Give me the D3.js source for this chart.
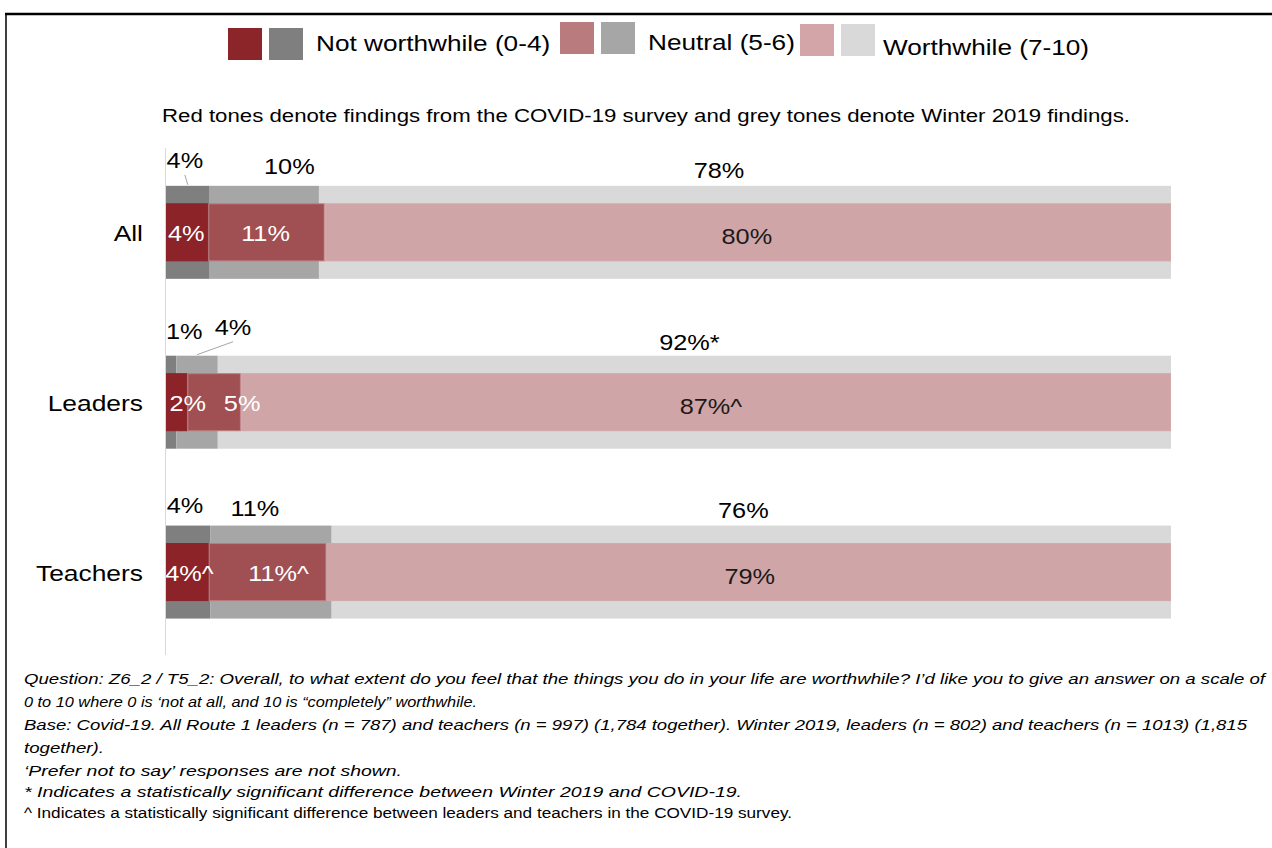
<!DOCTYPE html>
<html>
<head>
<meta charset="utf-8">
<script src="https://cdn.jsdelivr.net/npm/d3@7"></script>
<style>
  html, body { margin: 0; padding: 0; background: #fff; }
  svg { display: block; font-family: "Liberation Sans", Arial, sans-serif; }
</style>
</head>
<body>
<svg id="chart" width="1272" height="848"></svg>
<script>
// Survey groups, top to bottom
const categories = ["All", "Leaders", "Teachers"];
const seriesKeys = ["not", "neutral", "worth"];
const seriesNames = ["Not worthwhile (0-4)", "Neutral (5-6)", "Worthwhile (7-10)"];

// COVID-19 survey (%)
const covidNot = [4, 2, 4];
const covidNeutral = [11, 5, 11];
const covidWorth = [80, 87, 79];
const covidFlags = [["", "", ""], ["", "", "^"], ["^", "^", ""]];

// Winter 2019 survey (%)
const winterNot = [4, 1, 4];
const winterNeutral = [10, 4, 11];
const winterWorth = [78, 92, 76];
const winterFlags = [["", "", ""], ["", "", "*"], ["", "", ""]];

const covidColors = ["#8B2329", "#A04F53", "#D0A5A7"];
const covidStroke = ["#8B2329", "#BE7A7E", "#D3A8AA"];
const winterColors = ["#7F7F7F", "#A6A6A6", "#D9D9D9"];
const legendCovidColors = ["#8B252A", "#BA7B7E", "#D3A5A8"];

const subtitle = "Red tones denote findings from the COVID-19 survey and grey tones denote Winter 2019 findings.";
const notes = [
  {t: "Question: Z6_2 / T5_2: Overall, to what extent do you feel that the things you do in your life are worthwhile?  I’d like you to give an answer on a scale of", italic: true},
  {t: "0 to 10 where  0 is ‘not at all, and 10 is “completely” worthwhile.", italic: true},
  {t: "Base: Covid-19.  All Route 1 leaders  (n = 787) and teachers (n = 997) (1,784 together).  Winter 2019, leaders  (n = 802) and teachers (n = 1013) (1,815", italic: true},
  {t: "together).", italic: true},
  {t: "‘Prefer not to say’ responses are not shown.", italic: true},
  {t: "* Indicates a statistically significant difference between  Winter 2019 and COVID-19.", italic: true},
  {t: "^ Indicates a statistically significant difference  between  leaders and teachers in the COVID-19 survey.", italic: false}
];

// ---- layout ----
const SX = 1.15;                 // horizontal text stretch used for chart labels
const SX_LEGEND = 1.19;
const plotLeft = 166, plotRight = 1171;
const winterH = 93, covidH = 58;

// label offsets from segment centres [dx, dy]
const winterShift = [[[-3, -9], [25, -3], [-26, 1]], [[13, -8], [36, -12], [-5, 3]], [[-3, -4], [-16, -1], [-8, 1]]];
const covidShift = [[[-1, 0], [-1, 0], [-1, 3]], [[11, 0], [28, 0], [5, 3]], [[2, 0], [11, 0], [1, 3]]];
const winterLeader = [[true, false, false], [false, true, false], [false, false, false]];

const svg = d3.select("#chart");

function stretchedText(sel, x, y, anchor, sx) {
  return sel.append("text")
    .attr("transform", `translate(${x},${y}) scale(${sx || SX},1)`)
    .attr("text-anchor", anchor || "start");
}

// frame
svg.append("line").attr("x1", 5).attr("x2", 1272).attr("y1", 14).attr("y2", 14)
  .attr("stroke", "#000").attr("stroke-width", 2.5);
svg.append("line").attr("x1", 6).attr("x2", 6).attr("y1", 13).attr("y2", 848)
  .attr("stroke", "#000").attr("stroke-width", 1.5);

// legend
const legendX = [228, 560, 800];
const legendTextX = [316, 648, 883];
const legendSwY = [28, 22, 24];
const legendTextY = [51, 50, 55];
seriesNames.forEach((name, i) => {
  const g = svg.append("g");
  g.append("rect").attr("x", legendX[i]).attr("y", legendSwY[i]).attr("width", 34).attr("height", 32)
    .attr("fill", legendCovidColors[i]);
  g.append("rect").attr("x", legendX[i] + 41).attr("y", legendSwY[i]).attr("width", 34).attr("height", 32)
    .attr("fill", winterColors[i]);
  stretchedText(g, legendTextX[i], legendTextY[i], "start", SX_LEGEND)
    .attr("font-size", 22).attr("fill", "#000").text(name);
});

stretchedText(svg, 162, 122, "start", 1.2).attr("font-size", 18.5).attr("fill", "#000")
  .attr("textLength", 968 / 1.2).attr("lengthAdjust", "spacingAndGlyphs").text(subtitle);

// data tables
const covidRows = categories.map((c, i) => ({cat: c, not: covidNot[i], neutral: covidNeutral[i], worth: covidWorth[i]}));
const winterRows = categories.map((c, i) => ({cat: c, not: winterNot[i], neutral: winterNeutral[i], worth: winterWorth[i]}));

const stack = d3.stack().keys(seriesKeys).offset(d3.stackOffsetExpand);
const covidStack = stack(covidRows);
const winterStack = stack(winterRows);

const x = d3.scaleLinear().domain([0, 1]).range([plotLeft, plotRight]);
const y = d3.scalePoint().domain(categories).range([147.4, 657]).padding(0.5);

// axis line
svg.append("line").attr("x1", plotLeft - 0.5).attr("x2", plotLeft - 0.5).attr("y1", 148).attr("y2", 655)
  .attr("stroke", "#D9D9D9").attr("stroke-width", 1);

// category labels
categories.forEach(c => {
  stretchedText(svg, 143, y(c) + 9, "end", 1.2).attr("font-size", 22).attr("fill", "#000").text(c);
});

// Winter 2019 bars (behind)
winterStack.forEach((layer, k) => {
  svg.append("g").selectAll("rect").data(layer).join("rect")
    .attr("x", d => x(d[0])).attr("width", d => x(d[1]) - x(d[0]))
    .attr("y", d => y(d.data.cat) - winterH / 2).attr("height", winterH)
    .attr("fill", winterColors[k]);
});

// COVID-19 bars (front)
covidStack.forEach((layer, k) => {
  svg.append("g").selectAll("rect").data(layer).join("rect")
    .attr("x", d => x(d[0]) + 0.5).attr("width", d => x(d[1]) - x(d[0]) - 1)
    .attr("y", d => y(d.data.cat) - covidH / 2 + 0.5).attr("height", covidH - 1)
    .attr("fill", covidColors[k]).attr("stroke", covidStroke[k]).attr("stroke-width", 1);
});

// clip for labels inside the plot
svg.append("clipPath").attr("id", "plotClip").append("rect")
  .attr("x", plotLeft).attr("y", 0).attr("width", 1272 - plotLeft).attr("height", 848);

const covidLabelG = svg.append("g").attr("clip-path", "url(#plotClip)");
covidStack.forEach((layer, k) => {
  layer.forEach((d, i) => {
    const cx = (x(d[0]) + x(d[1])) / 2 + covidShift[i][k][0];
    const cy = y(d.data.cat) + 9 + covidShift[i][k][1];
    stretchedText(covidLabelG, cx, cy, "middle")
      .attr("font-size", 22)
      .attr("fill", k < 2 ? "#fff" : "#1a1a1a")
      .text(d.data[seriesKeys[k]] + "%" + covidFlags[i][k]);
  });
});

winterStack.forEach((layer, k) => {
  layer.forEach((d, i) => {
    const segC = (x(d[0]) + x(d[1])) / 2;
    const top = y(d.data.cat) - winterH / 2;
    const cx = segC + winterShift[i][k][0];
    const cy = top - 9 + winterShift[i][k][1];
    if (winterLeader[i][k]) {
      svg.append("line").attr("x1", cx).attr("y1", cy + 7).attr("x2", segC).attr("y2", top - 1)
        .attr("stroke", "#A6A6A6").attr("stroke-width", 1);
    }
    stretchedText(svg, cx, cy, "middle")
      .attr("font-size", 22).attr("fill", "#000")
      .text(d.data[seriesKeys[k]] + "%" + winterFlags[i][k]);
  });
});

// notes (set to the line widths of the source layout)
const noteY = [684, 707, 730, 753, 776, 797, 818];
const noteWidth = [1241, 453, 1223, 80, 378, 718, 768];
notes.forEach((n, i) => {
  svg.append("text").attr("x", 24).attr("y", noteY[i])
    .attr("font-size", 15.5)
    .attr("font-style", n.italic ? "italic" : "normal").attr("fill", "#000")
    .attr("textLength", noteWidth[i]).attr("lengthAdjust", "spacingAndGlyphs")
    .text(n.t);
});
</script>
</body>
</html>
